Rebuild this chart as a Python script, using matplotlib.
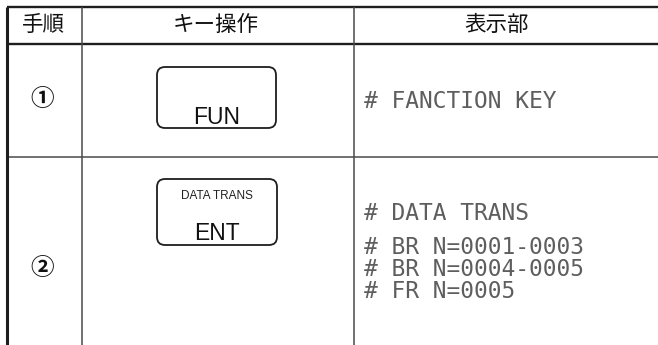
import matplotlib
matplotlib.use("Agg")
import matplotlib.pyplot as plt
from matplotlib.patches import FancyBboxPatch

plt.rcParams['font.family'] = ['Noto Sans CJK JP', 'DejaVu Sans']

# ---- content ----
headers = ["手順", "キー操作", "表示部"]
steps = ["①", "②"]
key_labels = ["FUN", "ENT"]
key_sublabels = ["", "DATA TRANS"]
display_row1 = ["# FANCTION KEY"]
display_row2 = ["# DATA TRANS", "# BR N=0001-0003", "# BR N=0004-0005", "# FR N=0005"]

# ---- layout (pixel coordinates) ----
W, H = 658, 345
x_left, x_c1, x_c2, x_right = 7, 82, 354, 658
y_top, y_head, y_row1 = 7, 44, 157
header_cx = [43.5, 216, 497]

fig = plt.figure(figsize=(W / 100, H / 100), dpi=100)
ax = fig.add_axes([0, 0, 1, 1])
ax.set_xlim(0, W)
ax.set_ylim(H, 0)
ax.axis('off')

dark = '#1e1e1e'
mid = '#4a4a4a'

# grid lines
ax.plot([x_left, x_right], [y_top, y_top], color=dark, lw=1.7, solid_capstyle='butt')
ax.plot([x_left, x_right], [y_head, y_head], color=dark, lw=1.7, solid_capstyle='butt')
ax.plot([x_left, x_right], [y_row1, y_row1], color=mid, lw=1.1, solid_capstyle='butt')
ax.plot([x_left, x_left], [y_top, H], color=dark, lw=2.2, solid_capstyle='butt')
ax.plot([x_c1, x_c1], [y_top, H], color=mid, lw=1.1, solid_capstyle='butt')
ax.plot([x_c2, x_c2], [y_top, H], color=mid, lw=1.1, solid_capstyle='butt')

# headers
for cx, h in zip(header_cx, headers):
    ax.text(cx, 25, h, ha='center', va='center',
            fontsize=15.5, color='#111111')

# step numbers
row_cy = [99, 268]
for cy, s in zip(row_cy, steps):
    ax.text(42.5, cy, s, ha='center', va='center',
            fontsize=17, color='#111111', fontweight='bold')

# key boxes
boxes = [(157, 67, 119, 61), (157, 179, 120, 66)]
for (bx, by, bw, bh), lab, sub in zip(boxes, key_labels, key_sublabels):
    p = FancyBboxPatch((bx, by), bw, bh,
                       boxstyle="round,pad=0,rounding_size=8",
                       fc='white', ec=dark, lw=1.3)
    ax.add_patch(p)
    ax.text(bx + bw / 2, by + bh - 11, lab, ha='center', va='center',
            fontsize=16.5, family=['Liberation Sans'], color='#111111')
    if sub:
        ax.text(bx + bw / 2, by + 17, sub, ha='center', va='center',
                fontsize=8.5, family=['Liberation Sans'], color='#222222')

# display texts
mono = ['DejaVu Sans Mono']
gray = '#5e5e5e'
ax.text(364, 101, display_row1[0], ha='left', va='center',
        fontsize=16.5, family=mono, color=gray)
row2_y = [213, 248, 270, 292]
for y, t in zip(row2_y, display_row2):
    ax.text(364, y, t, ha='left', va='center',
            fontsize=16.5, family=mono, color=gray)

fig.savefig('out.png', dpi=100, facecolor='white')
